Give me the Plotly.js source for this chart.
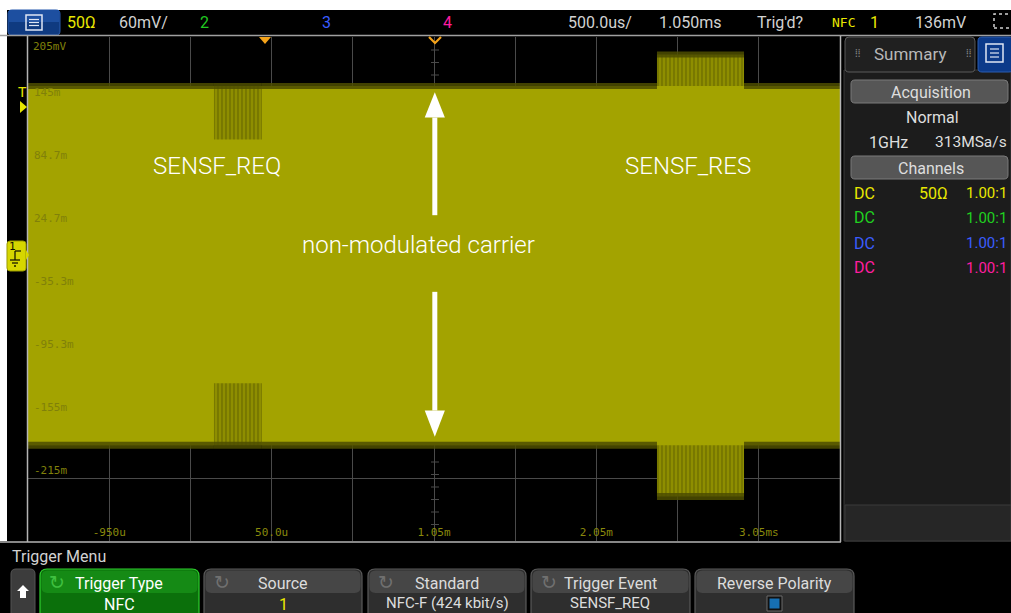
<!DOCTYPE html>
<html><head><meta charset="utf-8">
<script src="https://cdn.plot.ly/plotly-3.0.1.min.js"></script>
<style>html,body{margin:0;padding:0;background:#000;overflow:hidden}#chart{width:1011px;height:613px}</style>
</head><body><div id="chart"></div>
<script>
// ---------------- data ----------------
const segTimesMs   = [-1.45, -0.305, -0.01, 2.423, 2.959, 3.55];
const outerUpperMv = [158, 158, 158, 188, 158, 158];
const outerLowerMv = [-184, -184, -184, -233, -184, -184];
const innerUpperMv = [158, 107, 158, 158, 158, 158];
const innerLowerMv = [-184, -125, -184, -184, -184, -184];
const xTickVals = [-0.95, 0.05, 1.05, 2.05, 3.05];
const xTickText = ['-950u', '50.0u', '1.05m', '2.05m', '3.05ms'];
const yTickVals = [144.7, 84.7, 24.7, -35.3, -95.3, -155.3, -215.3];
const yTickText = ['145m', '84.7m', '24.7m', '-35.3m', '-95.3m', '-155m', '-215m'];
const yTopLabel = '205mV';
const xRangeMs = [-1.45, 3.55];
const yRangeMv = [-275.3, 204.7];
const arrowTimeMs = 1.055;
const upArrowMv = [35, 128, 152];      // shaft start, head base, tip
const downArrowMv = [-38, -151, -176];
const chartLabels = ['SENSF_REQ', 'non-modulated carrier', 'SENSF_RES'];

// ---------------- helpers ----------------
const W = 1011, H = 613;
const X = px => px / W;
const Y = py => 1 - py / H;
const P = (x, y) => X(x).toFixed(5) + ',' + Y(y).toFixed(5);
function rr(x0, y0, x1, y1, r) {
  return `M${P(x0 + r, y0)}L${P(x1 - r, y0)}Q${P(x1, y0)} ${P(x1, y0 + r)}L${P(x1, y1 - r)}Q${P(x1, y1)} ${P(x1 - r, y1)}L${P(x0 + r, y1)}Q${P(x0, y1)} ${P(x0, y1 - r)}L${P(x0, y0 + r)}Q${P(x0, y0)} ${P(x0 + r, y0)}Z`;
}
function rect(x0, y0, x1, y1, fill, line, lw) {
  return {type: 'rect', xref: 'paper', yref: 'paper', x0: X(x0), x1: X(x1), y0: Y(y1), y1: Y(y0),
    fillcolor: fill || 'rgba(0,0,0,0)', line: {color: line || 'rgba(0,0,0,0)', width: line ? (lw || 1) : 0}, layer: 'above'};
}
function pth(d, fill, line, lw) {
  return {type: 'path', xref: 'paper', yref: 'paper', path: d, fillcolor: fill || 'rgba(0,0,0,0)',
    line: {color: line || 'rgba(0,0,0,0)', width: line ? (lw || 1) : 0}, layer: 'above'};
}
function ln(x0, y0, x1, y1, color, w, dash) {
  return {type: 'line', xref: 'paper', yref: 'paper', x0: X(x0), x1: X(x1), y0: Y(y0), y1: Y(y1),
    line: {color: color, width: w || 1, dash: dash || 'solid'}, layer: 'above'};
}
const UI_FONT = 'Roboto, "Noto Sans", sans-serif';
function txt(x, y, text, color, size, anchor, family, weight) {
  const f = {family: family || UI_FONT, size: size || 16, color: color || '#d4d4d4'};
  if (weight) f.weight = weight;
  return {xref: 'paper', yref: 'paper', x: X(x), y: Y(y), text: text, showarrow: false,
    xanchor: anchor || 'center', yanchor: 'middle', font: f};
}
function edgeSegments(values) {
  const xs = [], ys = [];
  for (let i = 0; i < values.length - 1; i++) {
    xs.push(segTimesMs[i], segTimesMs[i + 1], null);
    ys.push(values[i], values[i], null);
  }
  return {xs, ys};
}

// ---------------- traces ----------------
const BRIGHT = '#a3a300';
const upEdge = edgeSegments(outerUpperMv), loEdge = edgeSegments(outerLowerMv);
const traces = [
  {x: segTimesMs, y: outerLowerMv, type: 'scatter', mode: 'lines', line: {shape: 'hv', width: 0}, hoverinfo: 'skip'},
  {x: segTimesMs, y: outerUpperMv, type: 'scatter', mode: 'lines', line: {shape: 'hv', width: 0}, fill: 'tonexty',
   fillcolor: '#8a8a00', fillpattern: {shape: '|', bgcolor: '#8e8e00', fgcolor: '#6a6a00', size: 4, solidity: 0.3}, hoverinfo: 'skip'},
  {x: segTimesMs, y: innerLowerMv, type: 'scatter', mode: 'lines', line: {shape: 'hv', width: 0}, hoverinfo: 'skip'},
  {x: segTimesMs, y: innerUpperMv, type: 'scatter', mode: 'lines', line: {shape: 'hv', width: 0}, fill: 'tonexty',
   fillcolor: BRIGHT, hoverinfo: 'skip'},
  {x: upEdge.xs, y: upEdge.ys, type: 'scatter', mode: 'lines', line: {width: 6, color: 'rgba(78,78,0,0.85)'}, connectgaps: false, hoverinfo: 'skip'},
  {x: loEdge.xs, y: loEdge.ys, type: 'scatter', mode: 'lines', line: {width: 7, color: 'rgba(78,78,0,0.85)'}, connectgaps: false, hoverinfo: 'skip'}
];

// ---------------- decoration shapes ----------------
const shapes = [];
shapes.push(rect(0, 0, W, 10, '#ffffff'));
shapes.push(rect(0, 0, 7, 541, '#ffffff'));
// menu button
shapes.push(pth(rr(8, 10, 60, 35, 4), '#0f3a80', '#2a5cb0', 1));
shapes.push(rect(9, 10, 59, 22, '#1d4fa0'));
shapes.push(rect(26, 15, 42, 30, null, '#dfe6f3', 1.5));
shapes.push(ln(29, 19.5, 39, 19.5, '#dfe6f3', 1.2));
shapes.push(ln(29, 22.5, 39, 22.5, '#dfe6f3', 1.2));
shapes.push(ln(29, 25.5, 39, 25.5, '#dfe6f3', 1.2));
// dashed icon top-right
shapes.push(rect(994, 14, 1012, 28, null, '#d0d0d0', 1.5));
shapes[shapes.length - 1].line.dash = 'dot';
// top separator + plot borders
shapes.push(ln(0, 35.5, W, 35.5, '#a0a0a0', 1.5));
shapes.push(ln(27.5, 36, 27.5, 542, '#b4b4b4', 1.5));
shapes.push(ln(0, 542, 841, 542, '#b4b4b4', 1.5));
shapes.push(ln(840.5, 36, 840.5, 542, '#b4b4b4', 1.5));
// trigger / delay markers
shapes.push(pth(`M${P(259, 37)}L${P(271, 37)}L${P(265, 44)}Z`, '#f5a31a'));
shapes.push(pth(`M${P(429, 37)}L${P(435, 43)}L${P(441, 37)}`, null, '#f5a31a', 2.2));
// centre-line minor ticks on the black background
[50, 62.5, 75, 462, 474.5, 487, 499.5, 512, 524.5].forEach(y => shapes.push(ln(431, y, 439, y, '#4a4a4a', 1)));
// left channel markers
shapes.push(pth(`M${P(20, 101)}L${P(27, 107)}L${P(20, 113)}Z`, '#e6e600'));
shapes.push(pth(rr(7, 241, 26, 271, 3), '#d6d600', '#9a9a00', 1));
shapes.push(pth(`M${P(26, 250)}L${P(29, 255)}L${P(26, 260)}Z`, '#d6d600'));
shapes.push(ln(15, 251, 21, 251, '#1a1a00', 1.3));
shapes.push(ln(15, 251, 15, 260, '#1a1a00', 1.3));
shapes.push(ln(10, 260, 20, 260, '#1a1a00', 1.3));
shapes.push(ln(12, 263, 18, 263, '#1a1a00', 1.3));
shapes.push(ln(14, 266, 16, 266, '#1a1a00', 1.3));
// right summary panel
shapes.push(rect(844, 70, W, 541, '#1c1c1c', '#3a3a3a', 1));
shapes.push(pth(rr(845, 37, 975, 72, 4), '#202020', '#5a5a5a', 1));
shapes.push(pth(rr(978, 37, 1013, 72, 4), '#0c3a8a', '#2a5cb0', 1));
shapes.push(rect(986, 44, 1003, 62, null, '#dfe6f3', 1.5));
shapes.push(ln(990, 49, 999, 49, '#dfe6f3', 1.2));
shapes.push(ln(990, 53, 999, 53, '#dfe6f3', 1.2));
shapes.push(ln(990, 57, 999, 57, '#dfe6f3', 1.2));
shapes.push(pth(rr(851, 80, 1008, 103, 4), '#565656', '#7a7a7a', 1));
shapes.push(pth(rr(851, 156, 1008, 179, 4), '#565656', '#7a7a7a', 1));
shapes.push(rect(845, 505, W, 541, '#262626', '#3a3a3a', 1));
// bottom soft-key buttons
shapes.push(pth(rr(11, 569, 35, 618, 5), '#3c3c3c', '#555555', 1));
shapes.push(pth(`M${P(23, 585)}L${P(29, 591)}L${P(26, 591)}L${P(26, 598)}L${P(20, 598)}L${P(20, 591)}L${P(17, 591)}Z`, '#ffffff'));
const btnX = [[40, 199], [204, 362], [368, 526], [531, 690], [695, 854]];
btnX.forEach((b, i) => {
  const green = i === 0;
  shapes.push(pth(rr(b[0], 569, b[1], 620, 7), green ? '#0b700b' : '#2e2e2e', green ? '#2fd02f' : '#5a5a5a', 1.2));
  shapes.push(pth(rr(b[0] + 1.5, 570.5, b[1] - 1.5, 593, 6), green ? '#158a15' : '#464646'));
});
shapes.push(rect(767, 596, 782, 611, '#111', '#6a6a6a', 1));
shapes.push(rect(769.5, 598.5, 779.5, 608.5, '#1670b4'));
// white annotation arrows (data coordinates)
const headHalf = 0.062;
shapes.push({type: 'line', xref: 'x', yref: 'y', x0: arrowTimeMs, x1: arrowTimeMs, y0: upArrowMv[0], y1: upArrowMv[1], line: {color: '#ffffff', width: 5}, layer: 'above'});
shapes.push({type: 'path', xref: 'x', yref: 'y', path: `M${arrowTimeMs - headHalf},${upArrowMv[1]}L${arrowTimeMs},${upArrowMv[2]}L${arrowTimeMs + headHalf},${upArrowMv[1]}Z`, fillcolor: '#ffffff', line: {width: 0}, layer: 'above'});
shapes.push({type: 'line', xref: 'x', yref: 'y', x0: arrowTimeMs, x1: arrowTimeMs, y0: downArrowMv[0], y1: downArrowMv[1], line: {color: '#ffffff', width: 5}, layer: 'above'});
shapes.push({type: 'path', xref: 'x', yref: 'y', path: `M${arrowTimeMs - headHalf},${downArrowMv[1]}L${arrowTimeMs},${downArrowMv[2]}L${arrowTimeMs + headHalf},${downArrowMv[1]}Z`, fillcolor: '#ffffff', line: {width: 0}, layer: 'above'});

// ---------------- text ----------------
const YEL = '#e8e800', GRY = '#d2d2d2';
const annotations = [
  // top status bar
  txt(81, 22, '50Ω', YEL, 16),
  txt(143, 22, '60mV/', GRY, 16),
  txt(204, 22, '2', '#20c820', 16),
  txt(326, 22, '3', '#3a5cff', 16),
  txt(447, 22, '4', '#ff1ca0', 16),
  txt(600, 22, '500.0us/', GRY, 16),
  txt(690, 22, '1.050ms', GRY, 16),
  txt(780, 22, "Trig'd?", GRY, 16),
  txt(843, 22, 'NFC', YEL, 13, 'center', '"DejaVu Sans Mono", monospace'),
  txt(874, 22, '1', YEL, 16),
  txt(940, 22, '136mV', GRY, 16),
  // left markers
  txt(22, 92, 'T', '#e6e600', 14, 'center', '"DejaVu Sans Mono", monospace'),
  txt(12, 246, '1', '#111100', 11, 'center', '"DejaVu Sans Mono", monospace'),
  // y top label
  {xref: 'paper', yref: 'y', x: X(31), y: yRangeMv[1], text: yTopLabel, showarrow: false, xanchor: 'left', yanchor: 'top', yshift: -1,
   font: {family: '"DejaVu Sans Mono", monospace', size: 11, color: '#80800a'}},
  // chart labels
  txt(217, 166, chartLabels[0], '#ffffff', 24, 'center', null, 300),
  txt(418, 245, chartLabels[1], '#ffffff', 24, 'center', null, 300),
  txt(688, 166, chartLabels[2], '#ffffff', 24, 'center', null, 300),
  // right panel
  txt(857, 53, '⁞⁞', '#8a8a8a', 10),
  txt(968, 53, '⁞⁞', '#8a8a8a', 10),
  txt(910, 54, 'Summary', '#b8b8b8', 17),
  txt(931, 92, 'Acquisition', '#dedede', 16),
  txt(932, 117, 'Normal', '#dedede', 16),
  txt(888, 142, '1GHz', '#dedede', 16),
  txt(933, 142, '313MSa/s', '#dedede', 15.5, 'left'),
  txt(931, 168, 'Channels', '#dedede', 16),
  txt(852, 193, 'DC', YEL, 16, 'left'), txt(933, 193, '50Ω', YEL, 16), txt(964, 193, '1.00:1', YEL, 15, 'left'),
  txt(852, 218, 'DC', '#20d020', 16, 'left'), txt(964, 218, '1.00:1', '#20d020', 15, 'left'),
  txt(852, 243, 'DC', '#3a5cff', 16, 'left'), txt(964, 243, '1.00:1', '#3a5cff', 15, 'left'),
  txt(852, 268, 'DC', '#ff1ca0', 16, 'left'), txt(964, 268, '1.00:1', '#ff1ca0', 15, 'left'),
  // bottom menu
  txt(10, 556, 'Trigger Menu', GRY, 16, 'left'),
  txt(57, 582, '↻', '#40c040', 19, 'center', '"DejaVu Sans", sans-serif'),
  txt(119, 583, 'Trigger Type', '#ffffff', 16),
  txt(119, 604, 'NFC', '#ffffff', 16),
  txt(222, 582, '↻', '#707070', 19, 'center', '"DejaVu Sans", sans-serif'),
  txt(283, 583, 'Source', '#dcdcdc', 16),
  txt(283, 604, '1', YEL, 16),
  txt(386, 582, '↻', '#707070', 19, 'center', '"DejaVu Sans", sans-serif'),
  txt(447, 583, 'Standard', '#dcdcdc', 16),
  txt(447, 603, 'NFC-F (424 kbit/s)', '#dcdcdc', 15),
  txt(549, 582, '↻', '#707070', 19, 'center', '"DejaVu Sans", sans-serif'),
  txt(610, 583, 'Trigger Event', '#dcdcdc', 16),
  txt(610, 603, 'SENSF_REQ', '#dcdcdc', 15),
  txt(774, 583, 'Reverse Polarity', '#dcdcdc', 16)
];

const layout = {
  width: W, height: H,
  margin: {l: 0, r: 0, t: 0, b: 0, pad: 0},
  paper_bgcolor: '#000000', plot_bgcolor: 'rgba(0,0,0,0)',
  showlegend: false, hovermode: false,
  xaxis: {
    domain: [X(28), X(840)], range: xRangeMs, fixedrange: true,
    tickmode: 'array', tickvals: xTickVals, ticktext: xTickText,
    ticklabelposition: 'inside', ticks: '', ticklabelstandoff: 0,
    tickfont: {family: '"DejaVu Sans Mono", monospace', size: 11, color: '#8a8a0c'},
    showgrid: true, gridcolor: '#4a4a4a', gridwidth: 1,
    minor: {tick0: -0.95, dtick: 0.5, showgrid: true, gridcolor: '#4a4a4a', gridwidth: 1, ticks: ''},
    zeroline: false, showline: false
  },
  yaxis: {
    domain: [Y(541), Y(37)], range: yRangeMv, fixedrange: true,
    tickmode: 'array', tickvals: yTickVals, ticktext: yTickText,
    ticklabelposition: 'inside', ticks: '', ticklabelstandoff: 3, ticklabelshift: -8,
    tickfont: {family: '"DejaVu Sans Mono", monospace', size: 11, color: '#80800a'},
    showgrid: true, gridcolor: '#4a4a4a', gridwidth: 1,
    zeroline: false, showline: false
  },
  shapes: shapes,
  annotations: annotations
};

Plotly.newPlot('chart', traces, layout, {displayModeBar: false, staticPlot: true});
</script>
</body></html>
